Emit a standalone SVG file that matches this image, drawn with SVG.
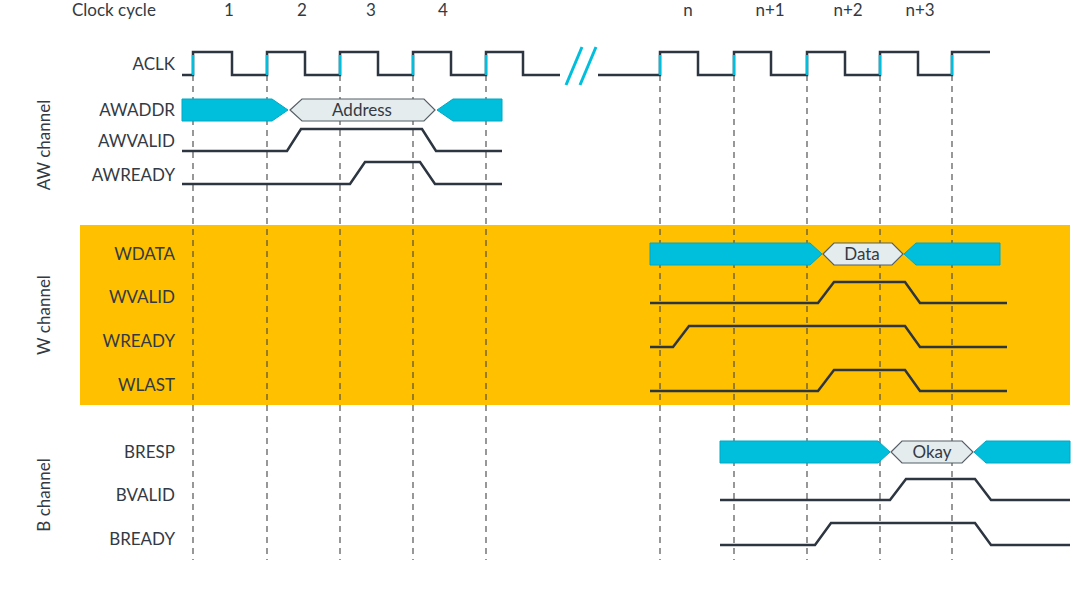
<svg xmlns="http://www.w3.org/2000/svg" width="1090" height="604" viewBox="0 0 1090 604">
<style>
text{font-family:Lato,"Liberation Sans",sans-serif;font-size:17px;fill:#333a44}
.l{text-anchor:end}
.c{text-anchor:middle}
.sig{fill:none;stroke:#2d3540;stroke-width:2.5;stroke-linejoin:miter}
.bus{fill:#00bfdc;stroke:#00a8c4;stroke-width:1}
.hex{fill:#e4ecee;stroke:#555e66;stroke-width:1.2}
.dash{stroke:#444;stroke-width:1.1;stroke-dasharray:6,5}
.edge{stroke:#00bfdc;stroke-width:2.5}
</style>
<rect width="1090" height="604" fill="#fff"/>
<rect x="80" y="225" width="990" height="180" fill="#ffc000"/>
<g id="grid">
<line class="dash" x1="193" y1="75" x2="193" y2="560"/><line class="dash" x1="267" y1="75" x2="267" y2="560"/><line class="dash" x1="340" y1="75" x2="340" y2="560"/><line class="dash" x1="413" y1="75" x2="413" y2="560"/><line class="dash" x1="486" y1="75" x2="486" y2="560"/>
<line class="dash" x1="660" y1="75" x2="660" y2="560"/><line class="dash" x1="734" y1="75" x2="734" y2="560"/><line class="dash" x1="807" y1="75" x2="807" y2="560"/><line class="dash" x1="880" y1="75" x2="880" y2="560"/><line class="dash" x1="952" y1="75" x2="952" y2="560"/>
</g>
<g id="header">
<text x="72" y="16">Clock cycle</text>
<text class="c" x="229" y="16">1</text><text class="c" x="302" y="16">2</text><text class="c" x="371" y="16">3</text><text class="c" x="443" y="16">4</text>
<text class="c" x="688" y="16">n</text><text class="c" x="770" y="16">n+1</text><text class="c" x="848" y="16">n+2</text><text class="c" x="920" y="16">n+3</text>
</g>
<g id="labels">
<text class="l" x="175" y="70">ACLK</text>
<text class="l" x="175" y="116">AWADDR</text>
<text class="l" x="175" y="147">AWVALID</text>
<text class="l" x="175" y="181">AWREADY</text>
<text class="l" x="175" y="260">WDATA</text>
<text class="l" x="175" y="303">WVALID</text>
<text class="l" x="175" y="347">WREADY</text>
<text class="l" x="175" y="391">WLAST</text>
<text class="l" x="175" y="458">BRESP</text>
<text class="l" x="175" y="501">BVALID</text>
<text class="l" x="175" y="545">BREADY</text>
<text class="c" transform="translate(50,145) rotate(-90)">AW channel</text>
<text class="c" transform="translate(50,315) rotate(-90)">W channel</text>
<text class="c" transform="translate(50,495) rotate(-90)">B channel</text>
</g>
<g id="aclk">
<polyline class="sig" points="182,75 193,75 193,52 232,52 232,75 267,75 267,52 305,52 305,75 340,75 340,52 378,52 378,75 413,75 413,52 451,52 451,75 486,75 486,52 523,52 523,75 560,75"/>
<polyline class="sig" points="598,75 660,75 660,52 698,52 698,75 734,75 734,52 771,52 771,75 807,75 807,52 845,52 845,75 880,75 880,52 918,52 918,75 952,75 952,52 990,52"/>
<line class="edge" x1="193" y1="55" x2="193" y2="75"/><line class="edge" x1="267" y1="55" x2="267" y2="75"/><line class="edge" x1="340" y1="55" x2="340" y2="75"/><line class="edge" x1="413" y1="55" x2="413" y2="75"/><line class="edge" x1="486" y1="55" x2="486" y2="75"/>
<line class="edge" x1="660" y1="55" x2="660" y2="75"/><line class="edge" x1="734" y1="55" x2="734" y2="75"/><line class="edge" x1="807" y1="55" x2="807" y2="75"/><line class="edge" x1="880" y1="55" x2="880" y2="75"/><line class="edge" x1="952" y1="55" x2="952" y2="75"/>
<line x1="566" y1="85" x2="582" y2="47" stroke="#00bfdc" stroke-width="3"/><line x1="580" y1="85" x2="596" y2="47" stroke="#00bfdc" stroke-width="3"/>
</g>
<g id="awaddr">
<polygon class="bus" points="182,99 272,99 288,110 272,121 182,121"/>
<polygon class="hex" points="290,110 302,99 424,99 435,110 424,121 302,121"/>
<text class="c" x="362" y="116">Address</text>
<polygon class="bus" points="437,110 453,99 502,99 502,121 453,121"/>
</g>
<g id="awvalid"><polyline class="sig" points="182,151 287,151 301,129 422,129 436,151 502,151"/></g>
<g id="awready"><polyline class="sig" points="182,184 350,184 365,162 420,162 435,184 502,184"/></g>
<g id="wdata">
<polygon class="bus" points="650,243 810,243 822,254 810,265 650,265"/>
<polygon class="hex" points="823,254 834,243 892,243 903,254 892,265 834,265"/>
<text class="c" x="862" y="260">Data</text>
<polygon class="bus" points="904,254 916,243 1000,243 1000,265 916,265"/>
</g>
<g id="wvalid"><polyline class="sig" points="650,303 818,303 834,282 905,282 920,303 1007,303"/></g>
<g id="wready"><polyline class="sig" points="650,347 673,347 689,326 905,326 920,347 1007,347"/></g>
<g id="wlast"><polyline class="sig" points="650,391 818,391 834,370 905,370 920,391 1007,391"/></g>
<g id="bresp">
<polygon class="bus" points="720,441 878,441 890,452 878,463 720,463"/>
<polygon class="hex" points="891,452 902,441 962,441 973,452 962,463 902,463"/>
<text class="c" x="932" y="458">Okay</text>
<polygon class="bus" points="974,452 986,441 1070,441 1070,463 986,463"/>
</g>
<g id="bvalid"><polyline class="sig" points="720,500 890,500 906,479 975,479 991,500 1070,500"/></g>
<g id="bready"><polyline class="sig" points="720,545 815,545 831,523 975,523 991,545 1070,545"/></g>
</svg>
